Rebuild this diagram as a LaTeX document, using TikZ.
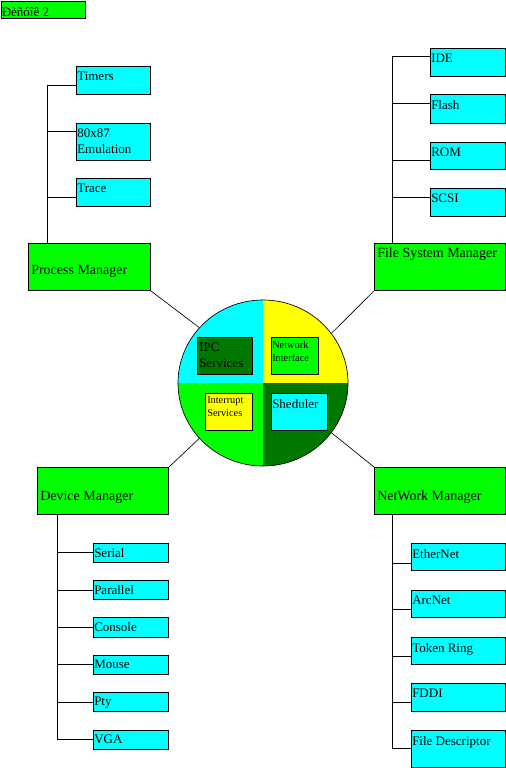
\documentclass[tikz,border=0pt]{standalone}
\usepackage{fontspec}
\setmainfont{Liberation Serif}
\usetikzlibrary{shapes.geometric}

\definecolor{boxgreen}{RGB}{0,255,0}
\definecolor{darkgreen}{RGB}{0,120,0}
\definecolor{boxcyan}{RGB}{0,255,255}
\definecolor{boxyellow}{RGB}{255,255,0}
\newcommand\leaffont{\fontsize{9.75}{12}\selectfont}
\newcommand\mgrfont{\fontsize{10.5}{12}\selectfont}
\newcommand\smallfont{\fontsize{7.75}{9.75}\selectfont}

\tikzset{
  leaf/.style={draw, line width=0.75pt, fill=boxcyan, anchor=north west, inner sep=0pt, minimum width=#1},
  leaf/.default=56.25pt,
  mgr/.style={draw, line width=0.75pt, fill=boxgreen, anchor=north west, inner sep=0pt,
    minimum width=98.25pt, minimum height=35.25pt},
  inbox/.style={draw, line width=0.75pt, anchor=north west, inner sep=0pt, minimum height=27.75pt},
  lt/.style={anchor=north west, inner sep=0pt, xshift=0.75pt, yshift=-4.5pt, font=\leaffont, align=left},
  mt/.style={anchor=north west, inner sep=0pt, xshift=2.25pt, yshift=#1, font=\mgrfont},
  link/.style={line width=0.75pt},
}

\begin{document}
\begin{tikzpicture}[x=0.75pt, y=-0.75pt]
        \useasboundingbox (0,0) rectangle (506,768);

        % Title
        \node[draw, line width=0.75pt, fill=boxgreen, anchor=north west, inner sep=0pt,
          minimum width=63.5pt, minimum height=12.75pt, label={[lt]north west:Ðèñóîê 2}] (title) at (0.5,1) {};

        % Process Manager
        \node[mgr, minimum width=91.5pt, label={[mt=-16.5pt]north west:Process Manager}] (pm) at (28,243) {};
        \node[leaf=55.5pt, minimum height=21pt, label={[lt]north west:Timers}] (timers) at (76,66) {};
        \node[leaf=55.5pt, minimum height=27.75pt, label={[lt]north west:80x87\\Emulation}] (emul) at (76,123) {};
        \node[leaf=55.5pt, minimum height=21pt, label={[lt]north west:Trace}] (trace) at (76,178) {};
        \coordinate (pmbus) at (47,85);
        \draw[link] (pm.north -| pmbus) -- (pmbus);
        \foreach \n/\d in {timers/19, emul/8, trace/19}
          \draw[link] (\n.north west) ++(0,\d) -- ++(-29,0);

        % File System Manager
        \node[mgr, label={[mt=-3.75pt]north west:File System Manager}] (fsm) at (374,243) {};
        \node[leaf, minimum height=21pt, label={[lt]north west:IDE}] (ide) at (430,48) {};
        \node[leaf, minimum height=21.75pt, label={[lt]north west:Flash}] (flash) at (430,94) {};
        \node[leaf, minimum height=20.25pt, label={[lt]north west:ROM}] (rom) at (430,142) {};
        \node[leaf, minimum height=21pt, label={[lt]north west:SCSI}] (scsi) at (430,188) {};
        \coordinate (fsbus) at (392,56);
        \draw[link] (fsm.north -| fsbus) -- (fsbus);
        \foreach \n/\d in {ide/8, flash/9, rom/18, scsi/9}
          \draw[link] (\n.north west) ++(0,\d) -- ++(-38,0);

        % Device Manager
        \node[mgr, label={[mt=-18pt]north west:Device Manager}] (dm) at (37,467) {};
        \node[leaf, minimum height=14.25pt, label={[lt, yshift=0.75pt]north west:Serial}] (serial) at (93,543) {};
        \node[leaf, minimum height=14.25pt, label={[lt, yshift=0.75pt]north west:Parallel}] (parallel) at (93,580) {};
        \node[leaf, minimum height=15pt, label={[lt, yshift=0.75pt]north west:Console}] (console) at (93,617) {};
        \node[leaf, minimum height=14.25pt, label={[lt, yshift=0.75pt]north west:Mouse}] (mouse) at (93,655) {};
        \node[leaf, minimum height=14.25pt, label={[lt, yshift=0.75pt]north west:Pty}] (pty) at (93,692) {};
        \node[leaf, minimum height=14.25pt, label={[lt, yshift=0.75pt]north west:VGA}] (vga) at (93,730) {};
        \coordinate (dmbus) at (57,739);
        \draw[link] (dm.south -| dmbus) -- (dmbus);
        \foreach \n/\d in {serial/9, parallel/10, console/10, mouse/9, pty/10, vga/9}
          \draw[link] (\n.north west) ++(0,\d) -- ++(-36,0);

        % NetWork Manager
        \node[mgr, label={[mt=-18pt]north west:NetWork Manager}] (nm) at (374,467) {};
        \node[leaf=70.5pt, minimum height=20.25pt, label={[lt]north west:EtherNet}] (ether) at (411,543) {};
        \node[leaf=70.5pt, minimum height=20.25pt, label={[lt]north west:ArcNet}] (arc) at (411,590) {};
        \node[leaf=70.5pt, minimum height=20.25pt, label={[lt]north west:Token Ring}] (token) at (411,637) {};
        \node[leaf=70.5pt, minimum height=21pt, label={[lt]north west:FDDI}] (fddi) at (411,683) {};
        \node[leaf=70.5pt, minimum height=27.75pt, label={[lt]north west:File Descriptor}] (fdesc) at (411,730) {};
        \coordinate (nmbus) at (392,748);
        \draw[link] (nm.south -| nmbus) -- (nmbus);
        \foreach \n/\d in {ether/20, arc/19, token/19, fddi/19, fdesc/18}
          \draw[link] (\n.north west) ++(0,\d) -- ++(-19,0);

        % Kernel circle, four quadrants
        \node[ellipse, draw, line width=0.5pt, minimum width=127.5pt, minimum height=124.5pt, inner sep=0pt,
          path picture={
            \fill[boxcyan] (path picture bounding box.center) rectangle (path picture bounding box.north west);
            \fill[boxyellow] (path picture bounding box.center) rectangle (path picture bounding box.north east);
            \fill[boxgreen] (path picture bounding box.center) rectangle (path picture bounding box.south west);
            \fill[darkgreen] (path picture bounding box.center) rectangle (path picture bounding box.south east);
          }] (core) at (263,383) {};

        \node[inbox, fill=darkgreen, minimum width=41.25pt,
          label={[lt, xshift=0.75pt]north west:IPC\\Services}] (ipc) at (197,337) {};
        \node[inbox, fill=boxgreen, minimum width=35.25pt,
          label={[lt, yshift=1.5pt, font=\smallfont]north west:Network\\Interface}] (netif) at (271,337) {};
        \node[inbox, fill=boxyellow, minimum width=35.25pt,
          label={[lt, xshift=0.75pt, yshift=2.25pt, font=\smallfont]north west:Interrupt\\Services}] (irq) at (205,393) {};
        \node[inbox, fill=boxcyan, minimum width=42pt,
          label={[lt]north west:Sheduler}] (sched) at (271,393) {};

        % Managers to the kernel
        \draw[line width=0.5pt] (pm.south east) -- (core.139);
        \draw[line width=0.5pt] (fsm.south west) -- (core.36);
        \draw[line width=0.5pt] (dm.north east) -- (core.221);
        \draw[line width=0.5pt] (nm.north west) -- (core.324);

\end{tikzpicture}
\end{document}
